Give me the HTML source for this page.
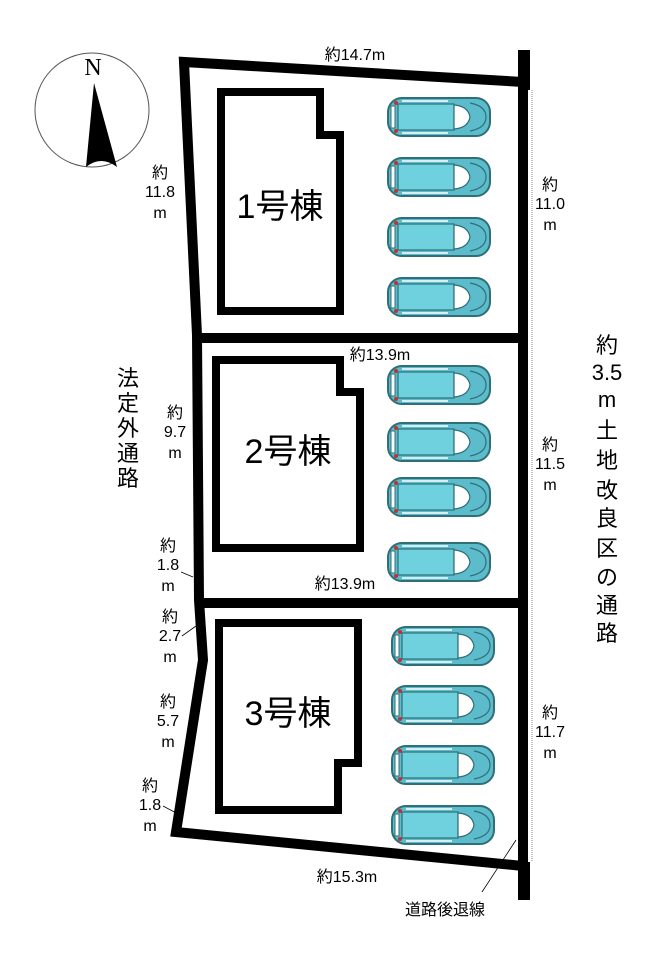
<!DOCTYPE html>
<html><head><meta charset="utf-8"><style>
html,body{margin:0;padding:0;background:#fff}
svg text{font-family:"Liberation Sans","Noto Sans CJK JP",sans-serif;fill:#000}
</style></head><body>
<svg width="653" height="959" viewBox="0 0 653 959" xmlns="http://www.w3.org/2000/svg">
<defs>
<g id="car">
<rect x="0" y="0" width="102" height="38" rx="14" fill="#5cbccc" stroke="#2f6f78" stroke-width="2"/>
<rect x="10" y="6" width="56" height="26" fill="#6fd0de" stroke="#2f6f78" stroke-width="1.2"/>
<path d="M66 7 Q80 8 82 19 Q80 30 66 31 Z" fill="#fff" stroke="#2f6f78" stroke-width="1.2"/>
<path d="M82 5 Q98 8 98 19 Q98 30 82 33" fill="none" stroke="#2f6f78" stroke-width="1.2"/>
<rect x="3" y="8" width="4" height="22" fill="#fff" stroke="#2f6f78" stroke-width="1"/>
<circle cx="8" cy="5" r="2" fill="#b33"/><circle cx="8" cy="33" r="2" fill="#b33"/>
<line x1="14" y1="3" x2="60" y2="3" stroke="#fff" stroke-width="1.5"/>
<line x1="14" y1="35" x2="60" y2="35" stroke="#fff" stroke-width="1.5"/>
</g>
</defs>
<!-- compass -->
<circle cx="92" cy="110" r="57" fill="none" stroke="#555" stroke-width="1"/>
<text x="93" y="75" font-size="24" text-anchor="middle" style="font-family:'Liberation Serif',serif">N</text>
<path d="M94 83 L117 167 Q101 155 86 167 Z" fill="#000"/>
<!-- dotted line -->
<line x1="532" y1="90" x2="532" y2="862" stroke="#888" stroke-width="1" stroke-dasharray="1 1"/>
<!-- boundary -->
<g fill="none" stroke="#000" stroke-width="10" stroke-linejoin="miter">
<path d="M523 82 L184 62 L197 335 L199 600 L203 660 L176 832 L523 866 Z"/>
<line x1="197" y1="338" x2="523" y2="338"/>
<line x1="199" y1="603" x2="523" y2="603"/>
</g>
<rect x="518" y="50" width="12" height="40" fill="#000"/>
<rect x="518" y="862" width="12" height="38" fill="#000"/>
<!-- buildings -->
<g fill="none" stroke="#000" stroke-width="8">
<path d="M221 92 L320 92 L320 135 L340 135 L340 311 L221 311 Z"/>
<path d="M216 360 L340 360 L340 392 L360 392 L360 548 L216 548 Z"/>
<path d="M219 623 L358 623 L358 763 L338 763 L338 810 L219 810 Z"/>
</g>
<text x="280" y="218" font-size="34" text-anchor="middle">1号棟</text>
<text x="288" y="463" font-size="34" text-anchor="middle">2号棟</text>
<text x="288" y="725" font-size="34" text-anchor="middle">3号棟</text>
<!-- cars -->
<use href="#car" x="388" y="98"/><use href="#car" x="388" y="158"/>
<use href="#car" x="388" y="218"/><use href="#car" x="388" y="278"/>
<use href="#car" x="388" y="366"/><use href="#car" x="388" y="423"/>
<use href="#car" x="388" y="478"/><use href="#car" x="388" y="543"/>
<use href="#car" x="392" y="627"/><use href="#car" x="392" y="686"/>
<use href="#car" x="392" y="746"/><use href="#car" x="392" y="806"/>
<!-- labels -->
<g font-size="16">
<text x="355" y="60" text-anchor="middle">約14.7m</text>
<text x="380" y="360" text-anchor="middle">約13.9m</text>
<text x="345" y="589" text-anchor="middle">約13.9m</text>
<text x="347" y="882" text-anchor="middle">約15.3m</text>
<text x="445" y="915" text-anchor="middle">道路後退線</text>
<text x="160" y="178" text-anchor="middle">約</text><text x="160" y="197" text-anchor="middle">11.8</text><text x="160" y="218" text-anchor="middle">m</text>
<text x="175" y="418" text-anchor="middle">約</text><text x="175" y="437" text-anchor="middle">9.7</text><text x="175" y="458" text-anchor="middle">m</text>
<text x="168" y="551" text-anchor="middle">約</text><text x="168" y="570" text-anchor="middle">1.8</text><text x="168" y="591" text-anchor="middle">m</text>
<text x="170" y="622" text-anchor="middle">約</text><text x="170" y="641" text-anchor="middle">2.7</text><text x="170" y="662" text-anchor="middle">m</text>
<text x="168" y="707" text-anchor="middle">約</text><text x="168" y="726" text-anchor="middle">5.7</text><text x="168" y="747" text-anchor="middle">m</text>
<text x="150" y="791" text-anchor="middle">約</text><text x="150" y="810" text-anchor="middle">1.8</text><text x="150" y="831" text-anchor="middle">m</text>
<text x="550" y="190" text-anchor="middle">約</text><text x="550" y="209" text-anchor="middle">11.0</text><text x="550" y="230" text-anchor="middle">m</text>
<text x="550" y="450" text-anchor="middle">約</text><text x="550" y="469" text-anchor="middle">11.5</text><text x="550" y="490" text-anchor="middle">m</text>
<text x="550" y="718" text-anchor="middle">約</text><text x="550" y="737" text-anchor="middle">11.7</text><text x="550" y="758" text-anchor="middle">m</text>
</g>
<g stroke="#000" stroke-width="0.8">
<line x1="181" y1="572" x2="193" y2="577"/>
<line x1="182" y1="636" x2="196" y2="626"/>
<line x1="163" y1="806" x2="180" y2="815"/>
<line x1="482" y1="892" x2="516" y2="840"/>
</g>
<g font-size="22" text-anchor="middle">
<text x="607" y="353">約</text><text x="607" y="380">3.5</text><text x="607" y="407">m</text>
<text x="607" y="438">土</text><text x="607" y="468">地</text><text x="607" y="498">改</text>
<text x="607" y="526">良</text><text x="607" y="556">区</text><text x="607" y="585">の</text>
<text x="607" y="613">通</text><text x="607" y="641">路</text>
<text x="128" y="386">法</text><text x="128" y="411">定</text><text x="128" y="436">外</text>
<text x="128" y="461">通</text><text x="128" y="486">路</text>
</g>
</svg>
</body></html>
